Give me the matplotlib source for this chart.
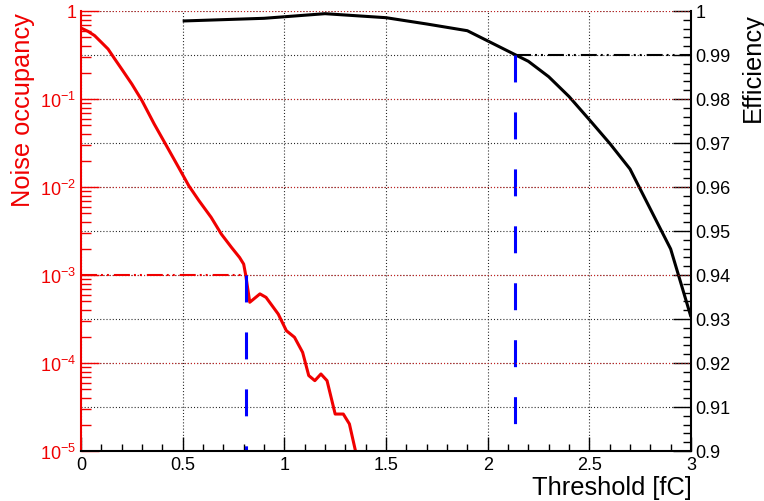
import matplotlib
matplotlib.use("Agg")
import matplotlib.pyplot as plt
from matplotlib.ticker import FixedLocator, FixedFormatter, MultipleLocator, LogLocator, NullFormatter

plt.rcParams['font.family'] = ['Liberation Sans', 'DejaVu Sans']
plt.rcParams['mathtext.fontset'] = 'custom'
plt.rcParams['mathtext.rm'] = 'Liberation Sans'
plt.rcParams['mathtext.it'] = 'Liberation Sans:italic'
plt.rcParams['mathtext.bf'] = 'Liberation Sans:bold'
plt.rcParams['mathtext.sf'] = 'Liberation Sans'
plt.rcParams['lines.scale_dashes'] = False

# Noise occupancy versus threshold
threshold_noise = [0.00, 0.034, 0.067, 0.10, 0.133, 0.166, 0.20, 0.25, 0.30, 0.36,
                   0.42, 0.48, 0.53, 0.58, 0.64, 0.69, 0.74, 0.78, 0.80, 0.81,
                   0.83, 0.88, 0.91, 0.97, 1.01, 1.05, 1.09, 1.12, 1.15, 1.18,
                   1.21, 1.25, 1.29, 1.32, 1.35, 1.37]
noise = [0.64, 0.588, 0.525, 0.441, 0.37, 0.285, 0.219, 0.148, 0.0957, 0.052,
         0.0295, 0.0167, 0.01035, 0.0070, 0.00452, 0.00292, 0.00206, 0.00158, 0.00133, 0.00100,
         0.00049, 0.00061, 0.000557, 0.00036, 0.000233, 0.000196, 0.000132, 7.2e-5, 6.3e-5, 7.5e-5,
         6.3e-5, 2.63e-5, 2.63e-5, 2.03e-5, 1.0e-5, 4.0e-6]

# Efficiency versus threshold
threshold_eff = [0.5, 0.9, 1.2, 1.5, 1.7, 1.9, 2.2, 2.3, 2.4, 2.5, 2.6, 2.7, 2.9, 3.0]
efficiency = [0.99773, 0.99834, 0.99939, 0.99848, 0.99705, 0.99552, 0.98857, 0.98507,
              0.98057, 0.97530, 0.96993, 0.96409, 0.94591, 0.93045]

# Working points
noise_cut = 1e-3
thr_at_noise_cut = 0.81
eff_cut = 0.99
thr_at_eff_cut = 2.135

x_ticks = [0, 0.5, 1, 1.5, 2, 2.5, 3]
x_ticklabels = ['0', '0.5', '1', '1.5', '2', '2.5', '3']
noise_ticks = [1e-5, 1e-4, 1e-3, 1e-2, 1e-1, 1]
noise_ticklabels = [r'$10^{-5}$', r'$10^{-4}$', r'$10^{-3}$', r'$10^{-2}$', r'$10^{-1}$', '1']
eff_ticks = [0.90, 0.91, 0.92, 0.93, 0.94, 0.95, 0.96, 0.97, 0.98, 0.99, 1.00]
eff_ticklabels = ['0.9', '0.91', '0.92', '0.93', '0.94', '0.95', '0.96', '0.97', '0.98', '0.99', '1']

RED = '#f00000'
BLUE = '#0000ff'
DOT = (0, (0.75, 1.5))
DASHDOT = (0, (11.5, 2.9, 1.4, 2.9, 1.4, 3.6))
LONGDASH = (0, (19.4, 21.6))

fig = plt.figure(figsize=(7.64, 5.02), dpi=100)
ax = fig.add_axes([81 / 764, 1 - 452 / 502, 610 / 764, 440 / 502])
ax2 = ax.twinx()
ax.set_zorder(2)
ax2.set_zorder(1)
ax.patch.set_visible(False)

# Left (log) axis
ax.set_xlim(0, 3)
ax.set_yscale('log')
ax.set_ylim(1e-5, 1)
ax.xaxis.set_major_locator(FixedLocator(x_ticks))
ax.xaxis.set_major_formatter(FixedFormatter(x_ticklabels))
ax.xaxis.set_minor_locator(MultipleLocator(0.1))
ax.yaxis.set_major_locator(FixedLocator(noise_ticks))
ax.yaxis.set_major_formatter(FixedFormatter(noise_ticklabels))
ax.yaxis.set_minor_locator(LogLocator(base=10, subs=range(2, 10), numticks=20))
ax.yaxis.set_minor_formatter(NullFormatter())

ax.tick_params(axis='x', which='major', direction='in', length=10, width=1.0,
               color='black', labelsize=13, pad=3.5, top=False)
ax.tick_params(axis='x', which='minor', direction='in', length=5, width=1.0,
               color='black', top=False)
ax.tick_params(axis='y', which='major', direction='in', length=13, width=1.0,
               color=RED, labelcolor=RED, labelsize=13, pad=3.5, right=False)
ax.tick_params(axis='y', which='minor', direction='in', length=7, width=1.0,
               color=RED, right=False)

for side in ('top', 'right'):
    ax.spines[side].set_visible(False)
ax.spines['left'].set_color(RED)
ax.spines['left'].set_linewidth(1.5)
ax.spines['bottom'].set_color('black')
ax.spines['bottom'].set_linewidth(1.5)

ax.grid(axis='x', which='major', color='#222222', linestyle=DOT, linewidth=0.8)
ax.grid(axis='y', which='major', color='#cc2020', linestyle=DOT, linewidth=0.8)

# Right (efficiency) axis
ax2.set_ylim(0.9, 1.0)
ax2.yaxis.set_major_locator(FixedLocator(eff_ticks))
ax2.yaxis.set_major_formatter(FixedFormatter(eff_ticklabels))
ax2.yaxis.set_minor_locator(MultipleLocator(0.002))
ax2.tick_params(axis='y', which='major', direction='in', length=13, width=1.0,
                color='black', labelsize=13, pad=3.0, left=False)
ax2.tick_params(axis='y', which='minor', direction='in', length=6, width=1.0,
                color='black', left=False)
for side in ('top', 'left', 'bottom'):
    ax2.spines[side].set_visible(False)
ax2.spines['right'].set_linewidth(1.5)
ax2.grid(axis='y', which='major', color='#222222', linestyle=DOT, linewidth=0.8)

# Curves
ax2.plot(threshold_eff, efficiency, color='black', lw=2.2,
         solid_joinstyle='round', solid_capstyle='butt')
ax.plot(threshold_noise, noise, color=RED, lw=2.2,
        solid_joinstyle='round', solid_capstyle='butt')

# Working point markers
ax.plot([0, thr_at_noise_cut], [noise_cut, noise_cut], color=RED, lw=1.5, linestyle=DASHDOT)
ax.plot([thr_at_noise_cut, thr_at_noise_cut], [noise_cut, 1e-5], color=BLUE, lw=2.2,
        linestyle=LONGDASH, dash_capstyle='butt')
ax2.plot([thr_at_eff_cut, 3.0], [eff_cut, eff_cut], color='black', lw=1.5, linestyle=DASHDOT)
ax2.plot([thr_at_eff_cut, thr_at_eff_cut], [eff_cut, 0.9], color=BLUE, lw=2.2,
         linestyle=LONGDASH, dash_capstyle='butt')

# Axis titles
fig.text(11 / 764, 1 - 13 / 502, 'Noise occupancy', rotation=90, color=RED,
         fontsize=18.3, ha='left', va='top')
fig.text(741 / 764, 1 - 13 / 502, 'Efficiency', rotation=90, color='black',
         fontsize=18.3, ha='left', va='top')
fig.text(692 / 764, 1 - 495 / 502, 'Threshold [fC]', color='black',
         fontsize=18.3, ha='right', va='baseline')

fig.savefig('out.png', dpi=100)
